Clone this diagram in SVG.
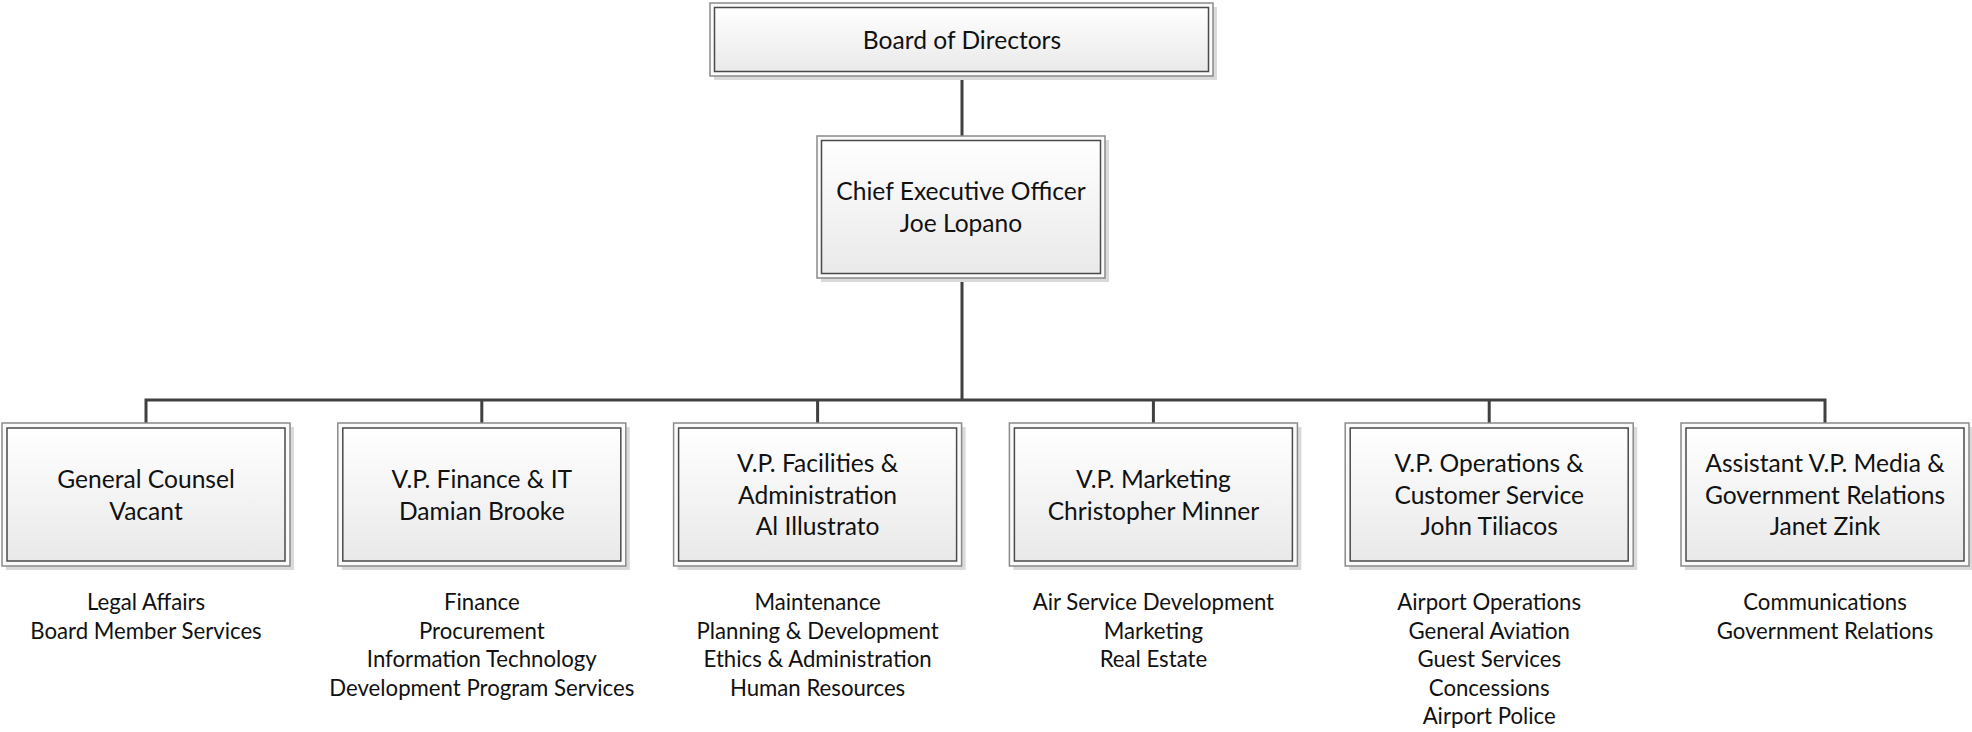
<svg xmlns="http://www.w3.org/2000/svg" width="1972" height="732" viewBox="0 0 1972 732">
  <defs>
    <linearGradient id="boxFill" x1="0" y1="0" x2="0" y2="1">
      <stop offset="0" stop-color="#ffffff"/>
      <stop offset="1" stop-color="#e9e9e9"/>
    </linearGradient>
  </defs>
  <style>
    .shadow { fill: #dadada; }
    .outer { fill: #fafafa; stroke: #8a8a8a; stroke-width: 1.5; }
    .inner { fill: url(#boxFill); stroke: #4a4a4a; stroke-width: 1.5; }
    .title { font-family: Lato, "Liberation Sans", sans-serif; font-size: 24.6px; fill: #111; text-anchor: middle; }
    .list { font-family: Lato, "Liberation Sans", sans-serif; font-size: 22.2px; fill: #111; text-anchor: middle; }
    .wire { fill: none; stroke: #404040; stroke-width: 3; stroke-linejoin: miter; }
  </style>
  <rect width="1972" height="732" fill="#ffffff"/>

  <!-- connectors -->
  <g id="connectors" class="wire">
    <path d="M962,76 V136"/>
    <path d="M962,278 V400"/>
    <path d="M146,423 V400 H1825 V423"/>
    <path d="M481.8,400 V423"/>
    <path d="M817.6,400 V423"/>
    <path d="M1153.4,400 V423"/>
    <path d="M1489.2,400 V423"/>
  </g>

  <!-- board -->
  <g id="board">
    <rect class="shadow" x="714" y="7" width="503" height="73"/>
    <rect class="outer" x="710" y="3" width="503" height="73"/>
    <rect class="inner" x="714.5" y="7.5" width="494" height="64"/>
    <text class="title" x="962" y="48.5">Board of Directors</text>
  </g>

  <!-- chief executive -->
  <g id="ceo">
    <rect class="shadow" x="821" y="140" width="288" height="142"/>
    <rect class="outer" x="817" y="136" width="288" height="142"/>
    <rect class="inner" x="821.5" y="140.5" width="279" height="133"/>
    <text class="title" x="961" y="200">Chief Executive Officer</text>
    <text class="title" x="961" y="232">Joe Lopano</text>
  </g>

  <!-- general counsel -->
  <g id="general-counsel">
    <rect class="shadow" x="6" y="427" width="288" height="143"/>
    <rect class="outer" x="2" y="423" width="288" height="143"/>
    <rect class="inner" x="7" y="428" width="278" height="133"/>
    <text class="title" x="146" y="488">General Counsel</text>
    <text class="title" x="146" y="520">Vacant</text>
    <text class="list" x="146" y="610">Legal Affairs</text>
    <text class="list" x="146" y="638.6">Board Member Services</text>
  </g>

  <!-- finance -->
  <g id="finance">
    <rect class="shadow" x="341.8" y="427" width="288" height="143"/>
    <rect class="outer" x="337.8" y="423" width="288" height="143"/>
    <rect class="inner" x="342.8" y="428" width="278" height="133"/>
    <text class="title" x="481.8" y="488">V.P. Finance &amp; IT</text>
    <text class="title" x="481.8" y="520">Damian Brooke</text>
    <text class="list" x="481.8" y="610">Finance</text>
    <text class="list" x="481.8" y="638.6">Procurement</text>
    <text class="list" x="481.8" y="667.2">Information Technology</text>
    <text class="list" x="481.8" y="695.8">Development Program Services</text>
  </g>

  <!-- facilities -->
  <g id="facilities">
    <rect class="shadow" x="677.6" y="427" width="288" height="143"/>
    <rect class="outer" x="673.6" y="423" width="288" height="143"/>
    <rect class="inner" x="678.6" y="428" width="278" height="133"/>
    <text class="title" x="817.6" y="472">V.P. Facilities &amp;</text>
    <text class="title" x="817.6" y="503.5">Administration</text>
    <text class="title" x="817.6" y="535">Al Illustrato</text>
    <text class="list" x="817.6" y="610">Maintenance</text>
    <text class="list" x="817.6" y="638.6">Planning &amp; Development</text>
    <text class="list" x="817.6" y="667.2">Ethics &amp; Administration</text>
    <text class="list" x="817.6" y="695.8">Human Resources</text>
  </g>

  <!-- marketing -->
  <g id="marketing">
    <rect class="shadow" x="1013.4" y="427" width="288" height="143"/>
    <rect class="outer" x="1009.4" y="423" width="288" height="143"/>
    <rect class="inner" x="1014.4" y="428" width="278" height="133"/>
    <text class="title" x="1153.4" y="488">V.P. Marketing</text>
    <text class="title" x="1153.4" y="520">Christopher Minner</text>
    <text class="list" x="1153.4" y="610">Air Service Development</text>
    <text class="list" x="1153.4" y="638.6">Marketing</text>
    <text class="list" x="1153.4" y="667.2">Real Estate</text>
  </g>

  <!-- operations -->
  <g id="operations">
    <rect class="shadow" x="1349.2" y="427" width="288" height="143"/>
    <rect class="outer" x="1345.2" y="423" width="288" height="143"/>
    <rect class="inner" x="1350.2" y="428" width="278" height="133"/>
    <text class="title" x="1489.2" y="472">V.P. Operations &amp;</text>
    <text class="title" x="1489.2" y="503.5">Customer Service</text>
    <text class="title" x="1489.2" y="535">John Tiliacos</text>
    <text class="list" x="1489.2" y="610">Airport Operations</text>
    <text class="list" x="1489.2" y="638.6">General Aviation</text>
    <text class="list" x="1489.2" y="667.2">Guest Services</text>
    <text class="list" x="1489.2" y="695.8">Concessions</text>
    <text class="list" x="1489.2" y="724.4">Airport Police</text>
  </g>

  <!-- media and government relations -->
  <g id="media">
    <rect class="shadow" x="1685" y="427" width="288" height="143"/>
    <rect class="outer" x="1681" y="423" width="288" height="143"/>
    <rect class="inner" x="1686" y="428" width="278" height="133"/>
    <text class="title" x="1825" y="472">Assistant V.P. Media &amp;</text>
    <text class="title" x="1825" y="503.5">Government Relations</text>
    <text class="title" x="1825" y="535">Janet Zink</text>
    <text class="list" x="1825" y="610">Communications</text>
    <text class="list" x="1825" y="638.6">Government Relations</text>
  </g>
</svg>
